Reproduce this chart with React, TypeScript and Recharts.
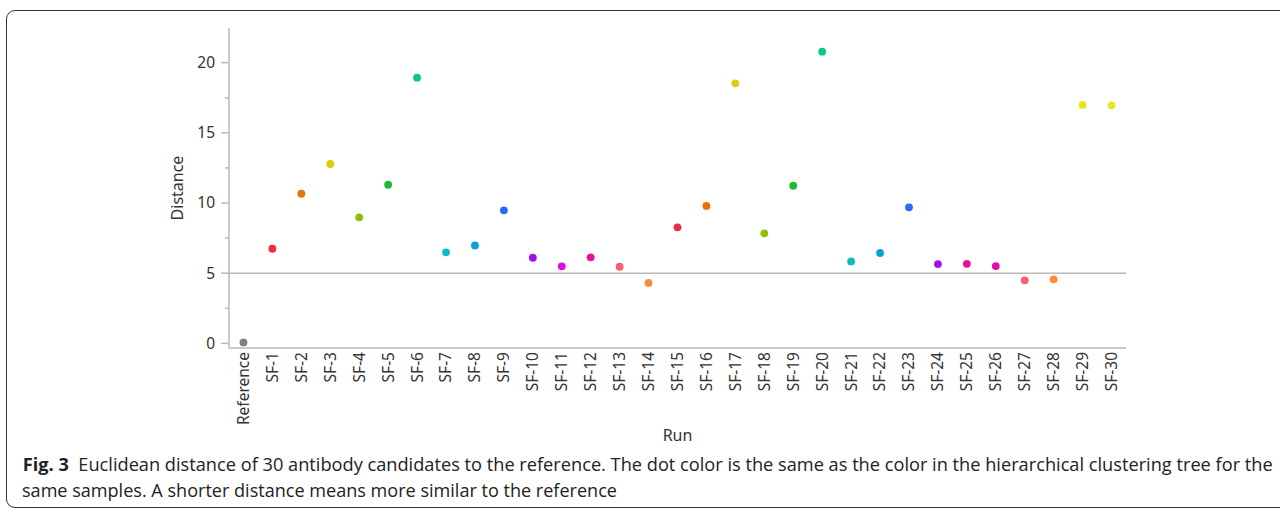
import React from 'react'
import {
  ScatterChart,
  Scatter,
  XAxis,
  YAxis,
  ReferenceLine,
  Cell,
  Label,
} from 'recharts'

// runs on the x axis
const RUNS = [
  'Reference', 'SF-1', 'SF-2', 'SF-3', 'SF-4', 'SF-5', 'SF-6', 'SF-7', 'SF-8', 'SF-9', 'SF-10',
  'SF-11', 'SF-12', 'SF-13', 'SF-14', 'SF-15', 'SF-16', 'SF-17', 'SF-18', 'SF-19', 'SF-20',
  'SF-21', 'SF-22', 'SF-23', 'SF-24', 'SF-25', 'SF-26', 'SF-27', 'SF-28', 'SF-29', 'SF-30',
]

// euclidean distance to the reference
const DISTANCES = [
  0.07, 6.74, 10.66, 12.78, 8.98, 11.3, 18.93, 6.49, 6.98, 9.48, 6.1,
  5.49, 6.13, 5.46, 4.3, 8.27, 9.79, 18.53, 7.84, 11.23, 20.78,
  5.84, 6.44, 9.69, 5.65, 5.67, 5.51, 4.49, 4.56, 16.99, 16.96,
]

// cluster colour of each dot
const COLORS = [
  '#808080', '#ee2c44', '#e8700a', '#d9cf0a', '#8fbd0a', '#20b838', '#0ac88a', '#0cbcc0', '#0aa0d8', '#2a68f5', '#a010f0',
  '#dc10dc', '#e6109a', '#fa5c70', '#ff8c3a', '#ee2c44', '#e8700a', '#d9cf0a', '#8fbd0a', '#20b838', '#0ac88a',
  '#0cbcc0', '#0aa0d8', '#2a68f5', '#a010f0', '#e6109a', '#e010b0', '#fa5c70', '#ff8c3a', '#ece41e', '#ece41e',
]

const MAJOR_TICKS = [0, 5, 10, 15, 20]
const MINOR_TICKS = [2.5, 7.5, 12.5, 17.5]
const THRESHOLD = 5

const CAPTION_BOLD = 'Fig. 3'
const CAPTION_1 = 'Euclidean distance of 30 antibody candidates to the reference. The dot color is the same as the color in the hierarchical clustering tree for the'
const CAPTION_2 = 'same samples. A shorter distance means more similar to the reference'

const data = RUNS.map((run, i) => ({ run, distance: DISTANCES[i] }))
const yTicks = [...MAJOR_TICKS, ...MINOR_TICKS].sort((a, b) => a - b)

const FONT = '"Noto Sans", "Open Sans", sans-serif'
const AXIS_GRAY = '#b9b9b9'
const TICK_SIZE = 8
const TICK_MARGIN = 6

function YTick(props: any) {
  const { x, y, payload } = props
  const axisX = x + TICK_SIZE + TICK_MARGIN
  const major = MAJOR_TICKS.includes(payload.value)
  return (
    <g>
      <line x1={axisX - (major ? 8 : 4)} x2={axisX} y1={y} y2={y} stroke={AXIS_GRAY} strokeWidth={1.5} />
      {major && (
        <text x={axisX - 14} y={y} dy="0.35em" textAnchor="end" fontSize={15.5} fill="#333" fontFamily={FONT}>
          {payload.value}
        </text>
      )}
    </g>
  )
}

function XTick(props: any) {
  const { x, y, payload } = props
  return (
    <text
      x={x}
      y={y}
      dy="0.35em"
      textAnchor="end"
      transform={`rotate(-90, ${x}, ${y})`}
      fontSize={15.5}
      fill="#333"
      fontFamily={FONT}
    >
      {payload.value}
    </text>
  )
}

function Dot(props: any) {
  const { cx, cy, fill } = props
  if (cx == null || cy == null) return null
  return <circle cx={cx} cy={cy} r={3.9} fill={fill} />
}

export default function App() {
  return (
    <div style={{ position: 'absolute', left: 0, top: 0, width: 1280, height: 513, overflow: 'hidden', background: '#fff' }}>
      <div
        style={{
          position: 'absolute',
          left: 6,
          top: 10,
          width: 1320,
          height: 496,
          border: '1.2px solid #333',
          borderRadius: 9,
        }}
      />
      <svg width={1280} height={513} style={{ position: 'absolute', left: 0, top: 0 }}>
        <text x={22.7} y={471} fontSize={18} fill="#222" fontFamily='"Open Sans", sans-serif' textLength={1250} lengthAdjust="spacingAndGlyphs">
          <tspan fontWeight={700}>{CAPTION_BOLD}</tspan>
          <tspan>{'\u00a0 ' + CAPTION_1}</tspan>
        </text>
        <text x={22} y={497} fontSize={18} fill="#222" fontFamily='"Open Sans", sans-serif' textLength={595} lengthAdjust="spacingAndGlyphs">
          {CAPTION_2}
        </text>
      </svg>
      <div style={{ position: 'absolute', left: 0, top: 0 }}>
        <ScatterChart width={1280} height={513} margin={{ top: 28, right: 154, bottom: 85, left: 169 }}>
          <XAxis
            dataKey="run"
            type="category"
            allowDuplicatedCategory={false}
            interval={0}
            height={80}
            tick={<XTick />}
            tickLine={false}
            tickSize={0}
            tickMargin={4}
            axisLine={{ stroke: AXIS_GRAY, strokeWidth: 1.5 }}
          >
            <Label value="Run" position="bottom" offset={2} fontSize={16} fill="#333" fontFamily={FONT} />
          </XAxis>
          <XAxis
            xAxisId="top"
            orientation="top"
            dataKey="run"
            type="category"
            allowDuplicatedCategory={false}
            height={0}
            tick={false}
            tickLine={false}
            axisLine={{ stroke: AXIS_GRAY, strokeWidth: 1.5 }}
          />
          <YAxis
            dataKey="distance"
            type="number"
            domain={[-0.33, 22.47]}
            ticks={yTicks}
            interval={0}
            width={60}
            tick={<YTick />}
            tickLine={false}
            tickSize={TICK_SIZE}
            tickMargin={TICK_MARGIN}
            axisLine={{ stroke: AXIS_GRAY, strokeWidth: 1.5 }}
          >
            <Label
              value="Distance"
              angle={-90}
              position="insideLeft"
              offset={8}
              fontSize={16}
              fill="#333"
              fontFamily={FONT}
              style={{ textAnchor: 'middle' }}
            />
          </YAxis>
          <YAxis
            yAxisId="right"
            orientation="right"
            type="number"
            domain={[-0.33, 22.47]}
            width={0}
            tick={false}
            tickLine={false}
            axisLine={{ stroke: AXIS_GRAY, strokeWidth: 1.5 }}
          />
          <ReferenceLine y={THRESHOLD} stroke={AXIS_GRAY} strokeWidth={1.5} />
          <Scatter data={data} shape={<Dot />} isAnimationActive={false}>
            {data.map((_, i) => (
              <Cell key={i} fill={COLORS[i]} />
            ))}
          </Scatter>
        </ScatterChart>
      </div>
    </div>
  )
}
